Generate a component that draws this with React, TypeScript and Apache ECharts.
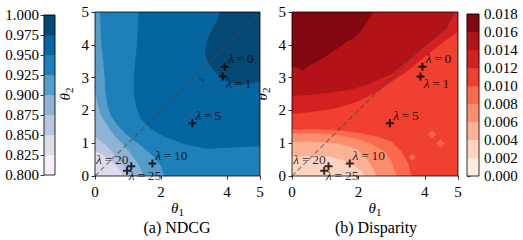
import React, { useEffect, useRef } from "react";
import * as echarts from "echarts";

// ---- data ----
const thetaMin = 0;
const thetaMax = 5;
const thetaTickInterval = 1;

const ndcgLevels = [0.8, 0.825, 0.85, 0.875, 0.9, 0.925, 0.95, 0.975, 1.0];
const ndcgColors = ["#f6eff7", "#dedcec", "#bbc7e1", "#8db3d5", "#559dc8", "#1e80b8", "#0565a0", "#034973"];
const dispLevels = [0, 0.002, 0.004, 0.006, 0.008, 0.01, 0.012, 0.014, 0.016, 0.018];
const dispColors = ["#ffece3", "#fdd4c2", "#fcb297", "#fc8e6e", "#fb6a4a", "#f0402f", "#d32020", "#b21218", "#830711"];

const lambdaValues = [0, 1, 5, 10, 20, 25];
const lambdaTheta1 = [3.93, 3.87, 2.95, 1.74, 1.1, 0.97];
const lambdaTheta2 = [3.33, 3.03, 1.61, 0.38, 0.3, 0.16];

const diagLine = [[0, 0], [5, 5]];

// contour boundaries (theta1, theta2)
const ndcgB850 = [[0, 0.78], [0.3, 0.6], [0.55, 0.4], [0.75, 0.2], [0.85, 0]];
const ndcgB875 = [[0, 1.2], [0.2, 1.05], [0.4, 0.88], [0.6, 0.65], [0.8, 0.42], [0.95, 0.2], [1.05, 0]];
const ndcgB900 = [[0, 2.7], [0.07, 2.26], [0.18, 1.85], [0.38, 1.55], [0.58, 1.24], [0.88, 0.94], [1.13, 0.63], [1.33, 0.33], [1.48, 0]];
const ndcgB925 = [[0.15, 5], [0.2, 4.0], [0.3, 3.0], [0.32, 2.56], [0.38, 2.15], [0.48, 1.85], [0.68, 1.55], [0.98, 1.24], [1.38, 0.94], [1.74, 0.63], [1.99, 0.33], [2.1, 0]];
const ndcgB950 = [[1.33, 5], [1.28, 4.04], [1.18, 3.03], [1.18, 2.56], [1.24, 2.15], [1.38, 1.75], [1.69, 1.44], [2.14, 1.19], [2.7, 0.98], [3.4, 0.83], [4.21, 0.88], [5, 0.91]];
const ndcgB975 = [[3.8, 5], [3.7, 4.75], [3.45, 4.25], [3.38, 4.04], [3.33, 3.74], [3.45, 3.44], [3.66, 3.13], [4.0, 2.88], [4.41, 2.77], [4.8, 2.85], [5, 2.88]];
const ndcgNotch = [[3.13, 2.98], [3.3, 2.86], [3.3, 2.98]];

const dispB004 = [[0, 0.6], [0.6, 0.62], [1.1, 0.6], [1.5, 0.5], [1.8, 0.35], [2.05, 0.2], [2.2, 0]];
const dispB006 = [[0, 1.04], [0.5, 1.05], [1.0, 1.02], [1.45, 0.98], [1.95, 0.83], [2.25, 0.53], [2.45, 0.22], [2.55, 0]];
const dispB008 = [[0, 1.3], [0.7, 1.3], [1.3, 1.26], [1.9, 1.15], [2.4, 0.98], [2.8, 0.75], [3.0, 0.45], [3.15, 0]];
const dispB010 = [[0, 1.42], [0.7, 1.43], [1.4, 1.4], [2.0, 1.32], [2.6, 1.2], [3.0, 1.05], [3.3, 0.75], [3.5, 0.4], [3.6, 0]];
const dispDiamondA = [[4.22, 1.15], [4.34, 1.27], [4.22, 1.39], [4.1, 1.27]];
const dispDiamondB = [[4.47, 0.87], [4.59, 0.99], [4.47, 1.11], [4.35, 0.99]];
const dispDiamondC = [[3.62, 0.47], [3.72, 0.57], [3.62, 0.67], [3.52, 0.57]];
const dispB012 = [[0, 1.9], [0.54, 1.95], [1.24, 2.05], [1.95, 2.26], [2.55, 2.56], [2.95, 2.85], [3.4, 3.15], [3.9, 3.55], [4.5, 4.05], [5, 4.4]];
const dispB014 = [[0, 2.45], [0.6, 2.48], [1.2, 2.55], [1.8, 2.65], [2.3, 2.8], [2.7, 2.98], [3.0, 3.12], [3.4, 3.45], [3.86, 3.84], [4.3, 4.2], [4.66, 4.5], [4.9, 5]];
const dispB016 = [[0, 3.3], [0.1, 3.33], [0.34, 3.23], [0.54, 3.38], [0.84, 3.54], [1.14, 3.74], [1.45, 3.94], [1.64, 4.1], [1.85, 4.2], [2.1, 4.45], [2.3, 4.76], [2.45, 5]];

const ndcgFills: [number, number[][]][] = [
  [2, ndcgB850], [3, ndcgB875], [4, ndcgB900], [5, ndcgB925], [6, ndcgB950], [7, ndcgB975], [7, ndcgNotch],
];
const dispFills: [number, number[][]][] = [
  [2, dispB004], [3, dispB006], [4, dispB008], [5, dispB010],
  [4, dispDiamondA], [4, dispDiamondB], [4, dispDiamondC],
  [6, dispB012], [7, dispB014], [8, dispB016],
];
const ndcgBackgroundBand = 1;
const dispBackgroundBand = 1;

// ---- styling ----
const FONT = "Liberation Serif";
const labelOffsets = [[16, -8], [16, 7], [16, -8], [19, -8], [-19, -7], [18, 5]];

// close a boundary polyline through the square's corners (counter-clockwise from end to start)
function closeRegion(pts: number[][]): number[][] {
  const L = thetaMin, H = thetaMax, S = H - L, eps = 1e-9;
  const per = (p: number[]): number => {
    const [x, y] = p;
    if (Math.abs(y - L) < eps) return x - L;
    if (Math.abs(x - H) < eps) return S + (y - L);
    if (Math.abs(y - H) < eps) return 2 * S + (H - x);
    if (Math.abs(x - L) < eps) return 3 * S + (H - y);
    return NaN;
  };
  const t0 = per(pts[0]);
  const t1 = per(pts[pts.length - 1]);
  if (isNaN(t0) || isNaN(t1)) return pts;
  const corners = [[L, L], [H, L], [H, H], [L, H]];
  let ts = t0;
  if (ts <= t1) ts += 4 * S;
  const out = pts.slice();
  for (let k = 1; k <= 8; k++) {
    const ct = k * S;
    if (ct > t1 + eps && ct < ts - eps) out.push(corners[k % 4]);
  }
  return out;
}

function contourSeries(idx: number, fills: [number, number[][]][], colors: string[], bg: number) {
  const square = [[thetaMin, thetaMin], [thetaMax, thetaMin], [thetaMax, thetaMax], [thetaMin, thetaMax]];
  const regions: [number, number[][]][] = [[bg, square], ...fills.map(([b, p]) => [b, closeRegion(p)] as [number, number[][]])];
  return {
    type: "custom",
    xAxisIndex: idx,
    yAxisIndex: idx,
    clip: true,
    silent: true,
    data: regions.map(() => [thetaMin, thetaMin]),
    renderItem: (params: any, api: any) => {
      const [b, pts] = regions[params.dataIndex];
      return {
        type: "polygon",
        shape: { points: pts.map((p) => api.coord(p)) },
        style: { fill: colors[b], stroke: colors[b], lineWidth: 0.3 },
      };
    },
  };
}

function frameSeries(idx: number, x0: number, x1: number, y0: number, y1: number) {
  return {
    type: "custom",
    xAxisIndex: idx,
    yAxisIndex: idx,
    silent: true,
    clip: false,
    z: 10,
    data: [[x0, y0]],
    renderItem: (params: any, api: any) => {
      const pts = [[x0, y0], [x1, y0], [x1, y1], [x0, y1]].map((p) => api.coord(p));
      return {
        type: "polygon",
        shape: { points: pts },
        style: { fill: "none", stroke: "#000", lineWidth: 0.8 },
      };
    },
  };
}

function colorbarSeries(idx: number, levels: number[], colors: string[]) {
  const bands = levels.slice(0, -1).map((lo, i) => [lo, levels[i + 1]]);
  return {
    type: "custom",
    xAxisIndex: idx,
    yAxisIndex: idx,
    silent: true,
    data: bands,
    renderItem: (params: any, api: any) => {
      const lo = api.value(0);
      const hi = api.value(1);
      const a = api.coord([0, lo]);
      const b = api.coord([1, hi]);
      return {
        type: "rect",
        shape: { x: a[0], y: b[1], width: b[0] - a[0], height: a[1] - b[1] },
        style: { fill: colors[params.dataIndex], stroke: colors[params.dataIndex], lineWidth: 0.3 },
      };
    },
  };
}

const axisText = { fontFamily: FONT, fontSize: 15, color: "#000" };
const nameRich = {
  t: { fontFamily: FONT, fontSize: 15, fontStyle: "italic", color: "#000" },
  s: { fontFamily: FONT, fontSize: 11, color: "#000", padding: [7, 0, 0, 0] },
};

function thetaX(idx: number) {
  return {
    type: "value",
    gridIndex: idx,
    min: thetaMin,
    max: thetaMax,
    interval: 2,
    name: "{t|θ}{s|1}",
    nameLocation: "middle",
    nameGap: 23,
    nameMoveOverlap: false,
    nameTextStyle: { fontFamily: FONT, rich: nameRich },
    axisLine: { show: false },
    axisTick: { show: true, length: 3.5, lineStyle: { color: "#000", width: 0.8 } },
    axisLabel: { ...axisText, margin: 8 },
    splitLine: { show: false },
  };
}
function thetaY(idx: number) {
  return {
    type: "value",
    gridIndex: idx,
    min: thetaMin,
    max: thetaMax,
    interval: thetaTickInterval,
    name: "{t|θ}{s|2}",
    nameLocation: "middle",
    nameRotate: 90,
    nameGap: 21,
    nameMoveOverlap: false,
    nameTextStyle: { fontFamily: FONT, rich: nameRich },
    axisLine: { show: false },
    axisTick: { show: true, length: 3.5, lineStyle: { color: "#000", width: 0.8 } },
    axisLabel: { ...axisText, margin: 6 },
    splitLine: { show: false },
  };
}
function cbX(idx: number) {
  return { type: "value", gridIndex: idx, min: 0, max: 1, show: false };
}
function cbY(idx: number, levels: number[], pos: string) {
  const step = levels[1] - levels[0];
  return {
    type: "value",
    gridIndex: idx,
    min: levels[0],
    max: levels[levels.length - 1],
    interval: step,
    position: pos,
    axisLine: { show: false },
    axisTick: { show: true, length: 3.5, lineStyle: { color: "#000", width: 0.8 } },
    axisLabel: { ...axisText, margin: 5, formatter: (v: number) => v.toFixed(3) },
    splitLine: { show: false },
  };
}

function markerSeries(idx: number) {
  return {
    type: "scatter",
    xAxisIndex: idx,
    yAxisIndex: idx,
    silent: true,
    z: 5,
    symbol: "path://M0,3H8V5H0Z M3,0H5V8H3Z",
    symbolSize: 8,
    itemStyle: { color: "#000" },
    data: lambdaValues.map((v, i) => ({
      value: [lambdaTheta1[i], lambdaTheta2[i]],
      label: {
        show: true,
        position: "inside",
        offset: labelOffsets[i],
        formatter: `{i|λ}\u2009=\u2009${v}`,
        fontFamily: FONT,
        fontSize: 13.5,
        color: "#000",
        rich: { i: { fontFamily: FONT, fontSize: 13.5, fontStyle: "italic", color: "#000" } },
      },
    })),
  };
}

function diagSeries(idx: number) {
  return {
    type: "line",
    xAxisIndex: idx,
    yAxisIndex: idx,
    silent: true,
    z: 4,
    symbol: "none",
    data: diagLine,
    lineStyle: { color: "rgba(70,70,70,0.55)", width: 1.4, type: [5, 3] },
  };
}

export default function App() {
  const ref = useRef<HTMLDivElement>(null);
  useEffect(() => {
    if (!ref.current) return;
    const chart = echarts.init(ref.current, null, { renderer: "svg" });
    const option: any = {
      animation: false,
      backgroundColor: "#fff",
      textStyle: { fontFamily: FONT },
      grid: [
        { left: 95, top: 12, width: 165, height: 164 },
        { left: 292, top: 12, width: 166, height: 164 },
        { left: 44, top: 15, width: 11, height: 160 },
        { left: 467, top: 14, width: 12, height: 162 },
      ],
      xAxis: [thetaX(0), thetaX(1), cbX(2), cbX(3)],
      yAxis: [thetaY(0), thetaY(1), cbY(2, ndcgLevels, "left"), cbY(3, dispLevels, "right")],
      series: [
        contourSeries(0, ndcgFills, ndcgColors, ndcgBackgroundBand),
        diagSeries(0),
        markerSeries(0),
        frameSeries(0, thetaMin, thetaMax, thetaMin, thetaMax),
        contourSeries(1, dispFills, dispColors, dispBackgroundBand),
        diagSeries(1),
        markerSeries(1),
        frameSeries(1, thetaMin, thetaMax, thetaMin, thetaMax),
        colorbarSeries(2, ndcgLevels, ndcgColors),
        frameSeries(2, 0, 1, ndcgLevels[0], ndcgLevels[ndcgLevels.length - 1]),
        colorbarSeries(3, dispLevels, dispColors),
        frameSeries(3, 0, 1, dispLevels[0], dispLevels[dispLevels.length - 1]),
      ],
      graphic: [
        {
          type: "text",
          x: 177,
          y: 227,
          silent: true,
          style: { text: "(a) NDCG", fontFamily: FONT, fontSize: 16, fill: "#000", align: "center", verticalAlign: "middle" },
        },
        {
          type: "text",
          x: 376,
          y: 227,
          silent: true,
          style: { text: "(b) Disparity", fontFamily: FONT, fontSize: 16, fill: "#000", align: "center", verticalAlign: "middle" },
        },
      ],
    };
    chart.setOption(option);
    return () => chart.dispose();
  }, []);
  return <div ref={ref} style={{ position: "absolute", left: 0, top: 0, width: 523, height: 240 }} />;
}
